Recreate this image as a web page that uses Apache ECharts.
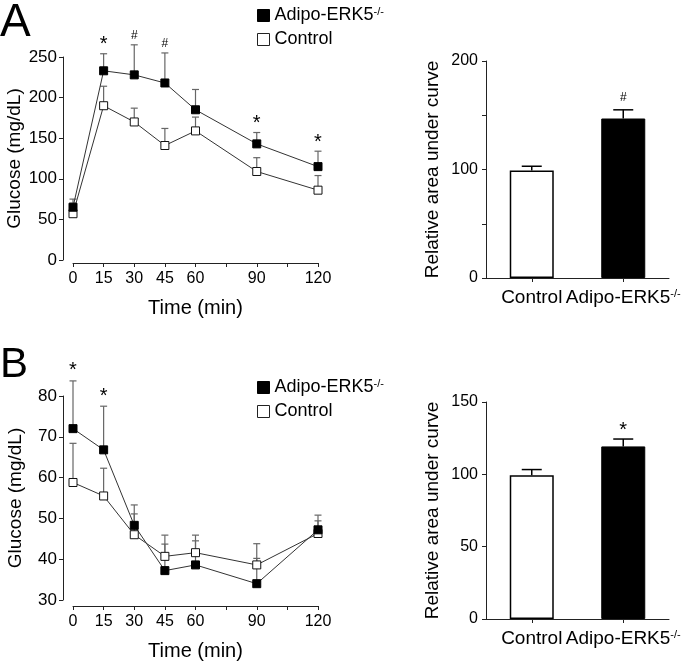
<!DOCTYPE html>
<html>
<head>
<meta charset="utf-8">
<script src="https://cdn.jsdelivr.net/npm/echarts@6/dist/echarts.min.js"></script>
<style>
html,body{margin:0;padding:0;background:#fff;}
#chart{width:693px;height:662px;}
</style>
</head>
<body>
<div id="chart"></div>
<script>
// ---------- data ----------
const times = [0, 15, 30, 45, 60, 90, 120];
const timeTicks = [0, 15, 30, 45, 60, 90, 120];

// Panel A: glucose tolerance
const adipoA = [65, 233, 228, 218, 185, 143, 115];
const adipoAErr = [75, 254, 265, 255, 210, 157, 134];
const ctrlA = [57, 190, 170, 141, 159, 109, 86];
const ctrlAErr = [70, 214, 187, 162, 176, 126, 104];
const sigA = ['', '*', '#', '#', '', '*', '*'];

// Panel B: insulin tolerance
const adipoB = [72, 66.8, 48.3, 37.2, 38.6, 34, 47.2];
const adipoBErr = [83.7, 77.5, 53.3, 43.7, 44.5, 40.2, 50.8];
const ctrlB = [58.8, 55.5, 46, 40.7, 41.6, 38.6, 46.3];
const ctrlBErr = [68.4, 62.3, 51.1, 45.9, 45.9, 43.8, 49.4];
const sigB = ['*', '*', '', '', '', '', ''];

// Area under curve bars
const barCats = ['Control', 'Adipo-ERK5'];
const aucA = [99, 147];
const aucAErr = [103, 155];
const sigAucA = ['', '#'];
const aucB = [99.3, 119.3];
const aucBErr = [103.3, 124.4];
const sigAucB = ['', '*'];

// ---------- styles ----------
const FONT = 'Liberation Sans';
const TXT = '#000';
const chart = echarts.init(document.getElementById('chart'));

function supFmt(n) { return n === 'Adipo-ERK5' ? 'Adipo-ERK5{sup|-/-}' : n; }
const richSup = { sup: { fontSize: 11, fontFamily: FONT, color: TXT, verticalAlign: 'top', lineHeight: 12 } };

function errSeries(xi, xs, means, tops, sigs, capW, color, lw, sigSizes, gap) {
  return {
    type: 'custom', xAxisIndex: xi, yAxisIndex: xi, z: 1, silent: true,
    data: xs.map((x, i) => [x, means[i], tops[i]]),
    renderItem: function (params, api) {
      const p0 = api.coord([api.value(0), api.value(1)]);
      const p1 = api.coord([api.value(0), api.value(2)]);
      const ch = [
        { type: 'line', shape: { x1: p0[0], y1: p0[1], x2: p1[0], y2: p1[1] }, style: { stroke: color, lineWidth: lw } },
        { type: 'line', shape: { x1: p1[0] - capW / 2, y1: p1[1], x2: p1[0] + capW / 2, y2: p1[1] }, style: { stroke: color, lineWidth: lw } }
      ];
      const s = sigs[params.dataIndex];
      if (s) {
        ch.push({ type: 'text', x: p1[0], y: p1[1] - gap, style: { text: s, fontFamily: FONT, fontSize: s === '*' ? sigSizes[0] : sigSizes[1], fill: TXT, align: 'center', verticalAlign: 'middle' } });
      }
      return { type: 'group', children: ch };
    }
  };
}

const axisLine = { show: true, onZero: false, lineStyle: { color: '#222', width: 1 } };
const axisTick = { show: true, length: 4, lineStyle: { color: '#222', width: 1 } };
const lblStyle = { fontFamily: FONT, fontSize: 16, color: TXT };

function timeX(gi, off) {
  return {
    type: 'value', gridIndex: gi, min: 0, max: 120, interval: 15, offset: off,
    axisLine: axisLine, axisTick: axisTick, splitLine: { show: false },
    axisLabel: Object.assign({ margin: 8, formatter: v => timeTicks.indexOf(v) >= 0 ? String(v) : '' }, lblStyle),
    name: 'Time (min)', nameLocation: 'middle', nameGap: 35,
    nameTextStyle: { fontFamily: FONT, fontSize: 20, color: TXT }
  };
}
function glucY(gi, min, max, iv) {
  return {
    type: 'value', gridIndex: gi, min: min, max: max, interval: iv, offset: 10,
    axisLine: axisLine, axisTick: axisTick, splitLine: { show: false },
    axisLabel: Object.assign({ margin: 6 }, lblStyle, { fontSize: 17 }),
    name: 'Glucose (mg/dL)', nameLocation: 'middle', nameGap: 38,
    nameTextStyle: { fontFamily: FONT, fontSize: 19, color: TXT }
  };
}
function catX(gi) {
  return {
    type: 'category', gridIndex: gi, data: barCats,
    axisLine: axisLine, axisTick: Object.assign({ alignWithLabel: true }, axisTick),
    axisLabel: { interval: 0, margin: 10, fontFamily: FONT, fontSize: 19, color: TXT, formatter: supFmt, rich: richSup }
  };
}
function aucY(gi, max, labelSet) {
  return {
    type: 'value', gridIndex: gi, min: 0, max: max, interval: 50,
    axisLine: axisLine, axisTick: axisTick, splitLine: { show: false },
    axisLabel: Object.assign({ margin: 8, formatter: v => labelSet.indexOf(v) >= 0 ? String(v) : '' }, lblStyle),
    name: 'Relative area under curve', nameLocation: 'middle', nameGap: 44,
    nameTextStyle: { fontFamily: FONT, fontSize: 19, color: TXT }
  };
}

function lineSeries(gi, name, xs, ys, filled) {
  return {
    type: 'line', name: name, xAxisIndex: gi, yAxisIndex: gi, z: 3,
    data: xs.map((x, i) => [x, ys[i]]),
    symbol: 'rect', symbolSize: 8,
    lineStyle: { color: '#333', width: 1 },
    itemStyle: filled ? { color: '#000', borderColor: '#000', borderWidth: 1 } : { color: '#fff', borderColor: '#111', borderWidth: 1 },
    emphasis: { disabled: true }
  };
}
function barSeries(gi, vals) {
  return {
    type: 'bar', xAxisIndex: gi, yAxisIndex: gi, barWidth: 44, z: 2,
    data: vals.map((v, i) => ({ value: v, itemStyle: i === 0 ? { color: '#fff', borderColor: '#000', borderWidth: 1.5 } : { color: '#000', borderColor: '#000', borderWidth: 1 } }))
  };
}

function legendAt(top) {
  return {
    left: 252, top: top, orient: 'vertical', itemWidth: 12, itemHeight: 12, itemGap: 5,
    selectedMode: false, icon: 'rect',
    data: [
      { name: 'Adipo-ERK5', itemStyle: { color: '#000', borderColor: '#000', borderWidth: 1 } },
      { name: 'Control', itemStyle: { color: '#fff', borderColor: '#222', borderWidth: 1 } }
    ],
    formatter: supFmt,
    textStyle: { fontFamily: FONT, fontSize: 18, color: TXT, lineHeight: 19, rich: richSup }
  };
}

const option = {
  animation: false,
  backgroundColor: '#fff',
  grid: [
    { left: 73, top: 57, width: 245, height: 203 },
    { left: 486, top: 61, width: 183, height: 217 },
    { left: 73, top: 396, width: 245, height: 204 },
    { left: 486, top: 402, width: 183, height: 217 }
  ],
  xAxis: [timeX(0, 3), catX(1), timeX(2, 6), catX(3)],
  yAxis: [glucY(0, 0, 250, 50), aucY(1, 200, [0, 100, 200]), glucY(2, 30, 80, 10), aucY(3, 150, [0, 50, 100, 150])],
  legend: [legendAt(1), legendAt(373)],
  graphic: [
    { type: 'text', left: 0, top: 0, style: { text: 'A', fontFamily: FONT, fontSize: 46, fill: TXT } },
    { type: 'text', left: 0, top: 344, style: { text: 'B', fontFamily: FONT, fontSize: 42, fill: TXT } }
  ],
  series: [
    errSeries(0, times, ctrlA, ctrlAErr, ['', '', '', '', '', '', ''], 7, '#666', 1.2, [20, 12], 9),
    errSeries(0, times, adipoA, adipoAErr, sigA, 7, '#666', 1.2, [20, 12], 9),
    lineSeries(0, 'Control', times, ctrlA, false),
    lineSeries(0, 'Adipo-ERK5', times, adipoA, true),
    errSeries(2, times, ctrlB, ctrlBErr, ['', '', '', '', '', '', ''], 7, '#666', 1.2, [20, 12], 10),
    errSeries(2, times, adipoB, adipoBErr, sigB, 7, '#666', 1.2, [20, 12], 10),
    lineSeries(2, 'Control', times, ctrlB, false),
    lineSeries(2, 'Adipo-ERK5', times, adipoB, true),
    barSeries(1, aucA),
    errSeries(1, [0, 1], aucA, aucAErr, sigAucA, 20, '#000', 1.5, [20, 12], 12),
    barSeries(3, aucB),
    errSeries(3, [0, 1], aucB, aucBErr, sigAucB, 20, '#000', 1.5, [20, 12], 9)
  ]
};
chart.setOption(option);
</script>
</body>
</html>
